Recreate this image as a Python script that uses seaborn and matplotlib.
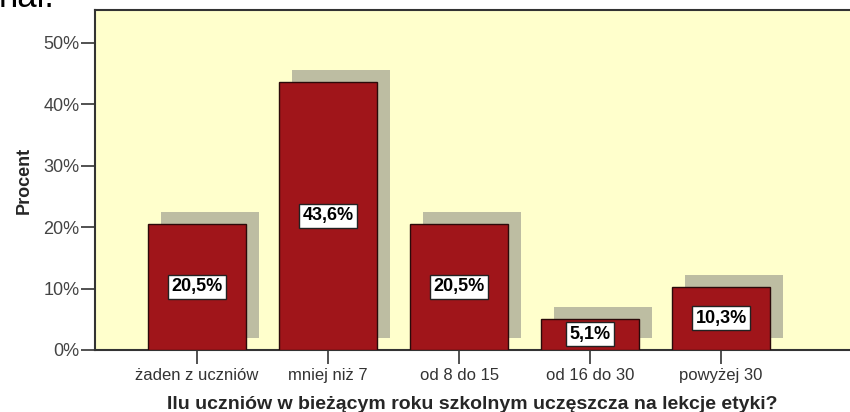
import matplotlib
matplotlib.use("Agg")
import matplotlib.pyplot as plt
import matplotlib.patheffects as pe
import seaborn as sns

# dane z wykresu
kategorie = ["żaden z uczniów", "mniej niż 7", "od 8 do 15", "od 16 do 30", "powyżej 30"]
procenty = [20.5, 43.6, 20.5, 5.1, 10.3]
etykiety = ["20,5%", "43,6%", "20,5%", "5,1%", "10,3%"]
y_ticki = [0, 10, 20, 30, 40, 50]
y_etykiety = ["0%", "10%", "20%", "30%", "40%", "50%"]

sns.set_style("ticks")
plt.rcParams['font.family'] = ['Liberation Sans', 'DejaVu Sans']

fig = plt.figure(figsize=(8.5, 4.12), dpi=100)
ax = fig.add_axes([95 / 850, 1 - 350 / 412, 1 - 95 / 850, 340 / 412])
ax.set_facecolor('#FFFFCC')

sns.barplot(x=kategorie, y=procenty, color='#A0151A', saturation=1, width=0.75,
            edgecolor='#2b0a0a', linewidth=1, ax=ax, zorder=3)

# cien pod slupkami (przesuniety w prawo i w gore)
cien = [pe.SimplePatchShadow(offset=(9.4, 8.6), shadow_rgbFace='#BDBDA2', alpha=1.0),
        pe.Normal()]
for p in ax.patches:
    p.set_path_effects(cien)

ax.bar_label(ax.containers[0], labels=etykiety, label_type='center', fontsize=13,
             fontweight='bold', color='black', zorder=5,
             bbox=dict(boxstyle='square,pad=0.2', facecolor='white', edgecolor='#222222', linewidth=1))

ax.set_xlim(-0.78, 4.985)
ax.set_ylim(0, 55.3)
ax.set_yticks(y_ticki)
ax.set_yticklabels(y_etykiety)

ax.tick_params(axis='y', length=10, width=1.2, color='#333333', labelsize=13,
               labelcolor='#444444', pad=1)
ax.tick_params(axis='x', length=10, width=1.2, color='#333333', labelsize=12,
               labelcolor='#333333', pad=3)

for s in ['left', 'bottom', 'top']:
    ax.spines[s].set_color('#333333')
    ax.spines[s].set_linewidth(1.5)
ax.spines['right'].set_visible(False)

ax.set_ylabel('Procent', fontsize=13, fontweight='bold', labelpad=8)
ax.set_xlabel('Ilu uczniów w bieżącym roku szkolnym uczęszcza na lekcje etyki?',
              fontsize=14, fontweight='bold', labelpad=9)

fig.text(-0.002, 1 - 7 / 412, 'nal:', fontsize=25, va='baseline', ha='left', color='black')

fig.savefig('out.png', dpi=100)
